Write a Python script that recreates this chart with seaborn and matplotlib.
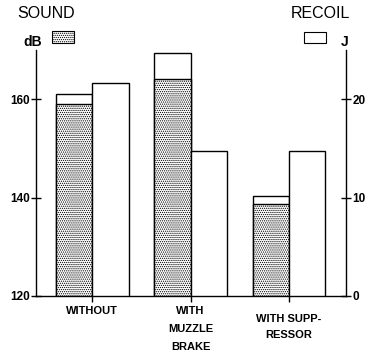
import numpy as np
import pandas as pd
import matplotlib
matplotlib.use("Agg")
import matplotlib.pyplot as plt
import seaborn as sns
from matplotlib.patches import Rectangle
import matplotlib.transforms as mtransforms

# data
categories = ["WITHOUT", "WITH\nMUZZLE\nBRAKE", "WITH SUPP-\nRESSOR"]
sound_db = [159.0, 164.2, 138.8]        # stippled part
sound_peak_db = [161.0, 169.3, 140.3]   # white cap on top
recoil_j = [21.6, 14.7, 14.7]
left_ticks = [120, 140, 160]
right_ticks = [0, 10, 20]

sns.set_theme(style="white")
plt.rcParams["font.family"] = ["Liberation Sans", "DejaVu Sans"]
plt.rcParams["hatch.color"] = "black"
plt.rcParams["hatch.linewidth"] = 0.6

order = ["sound", "recoil"]
df_peak = pd.DataFrame({"cat": categories, "value": sound_peak_db, "measure": "sound"})
df_sound = pd.DataFrame({"cat": categories, "value": sound_db, "measure": "sound"})
df_recoil = pd.DataFrame({"cat": categories, "value": recoil_j, "measure": "recoil"})
pal = {"sound": "white", "recoil": "white"}

fig = plt.figure(figsize=(3.72, 3.61), dpi=100)
ax = fig.add_axes([36 / 372, 65 / 361, 310 / 372, 246 / 361])
ax2 = ax.twinx()

common = dict(x="cat", y="value", hue="measure", hue_order=order, order=categories,
              width=0.74, dodge=True, palette=pal, edgecolor="black", linewidth=1.0,
              errorbar=None, legend=False)

# sound: white peak first, then stippled part on top
sns.barplot(data=df_peak, ax=ax, **common)
n0 = len(ax.patches)
sns.barplot(data=df_sound, ax=ax, **common)
for p in ax.patches[n0:]:
    p.set_hatch("........")

# recoil on right axis
sns.barplot(data=df_recoil, ax=ax2, **common)

ax.set_xlim(-0.57, 2.58)
ax.set_ylim(120, 170)
ax2.set_ylim(0, 25)

for a in (ax, ax2):
    a.set_xlabel("")
    a.set_ylabel("")
    a.spines["top"].set_visible(False)
    for s in a.spines.values():
        s.set_color("black")
        s.set_linewidth(1.0)
ax.spines["right"].set_visible(False)
ax2.spines["left"].set_visible(False)
ax2.spines["bottom"].set_visible(False)

ax.set_yticks(left_ticks)
ax2.set_yticks(right_ticks)
ax.tick_params(axis="y", direction="inout", length=7, width=1, labelsize=8.5, pad=1,
               left=True, colors="black")
ax2.tick_params(axis="y", direction="inout", length=7, width=1, labelsize=8.5, pad=1,
                right=True, colors="black")
for t in ax.get_yticklabels() + ax2.get_yticklabels():
    t.set_fontweight("bold")

# category labels
ax.set_xticks(range(len(categories)))
ax.set_xticklabels([])
ax.tick_params(axis="x", direction="out", length=4, width=1, bottom=True, colors="black")
trans = mtransforms.blended_transform_factory(ax.transData, ax.transAxes)
label_drop = [10, 10, 18]
label_spacing = [2.0, 2.0, 1.7]
for i, lab in enumerate(categories):
    ax.text(i, 0, lab, transform=trans + mtransforms.ScaledTranslation(0, -label_drop[i] / 100, fig.dpi_scale_trans),
            ha="center", va="top", fontsize=8, fontweight="bold",
            linespacing=label_spacing[i], color="black")

# headers and legend keys
fig.text(17 / 372, 1 - 6 / 361, "SOUND", ha="left", va="top", fontsize=11.5,
         color="black")
fig.text(23 / 372, 1 - 35 / 361, "dB", ha="left", va="top", fontsize=10,
         fontweight="bold", color="black")
fig.text(350 / 372, 1 - 6 / 361, "RECOIL", ha="right", va="top", fontsize=11.5,
         color="black")
fig.text(341 / 372, 1 - 35 / 361, "J", ha="left", va="top", fontsize=10,
         fontweight="bold", color="black")
fig.patches.append(Rectangle((52 / 372, 1 - 43 / 361), 22 / 372, 12 / 361,
                             transform=fig.transFigure, facecolor="white",
                             edgecolor="black", linewidth=0.8, hatch="........"))
fig.patches.append(Rectangle((304 / 372, 1 - 43 / 361), 22 / 372, 11 / 361,
                             transform=fig.transFigure, facecolor="white",
                             edgecolor="black", linewidth=0.8))

fig.savefig("out.png", dpi=100, facecolor="white")
